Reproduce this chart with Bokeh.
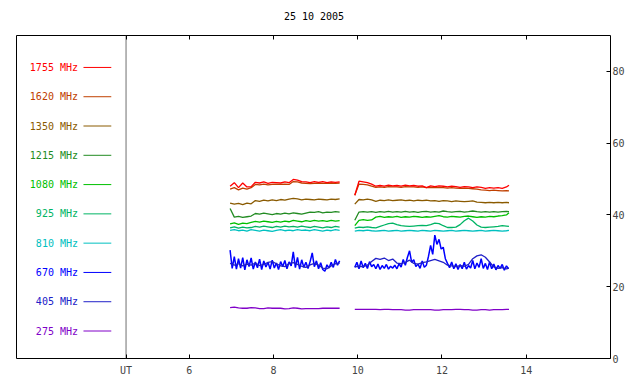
from bokeh.plotting import figure
from bokeh.models import Span, FixedTicker, LinearAxis, Range1d, ColumnDataSource, Div
from bokeh.layouts import column
from bokeh.core.properties import value
from bokeh.embed import file_html
from bokeh.resources import INLINE

TITLE = "25 10 2005"
UT_X = 4.5
X_TICKS = [6, 8, 10, 12, 14]
Y_TICKS = [0, 20, 40, 60, 80]

FREQ_LABELS = ["1755 MHz", "1620 MHz", "1350 MHz", "1215 MHz", "1080 MHz",
               "925 MHz", "810 MHz", "670 MHz", "405 MHz", "275 MHz"]
COLORS = ["#ff0000", "#c04000", "#8a5a00", "#228b22", "#00c000",
          "#00b464", "#00c0c0", "#0000ff", "#2020c8", "#8000c8"]

# time (UT hours) of the two observing blocks
T1 = [6.97, 7.07, 7.17, 7.27, 7.37, 7.47, 7.57, 7.67, 7.77, 7.87,
      7.97, 8.07, 8.17, 8.27, 8.37, 8.47, 8.57, 8.67, 8.77, 8.87,
      8.97, 9.07, 9.17, 9.27, 9.37, 9.47, 9.57]
T2 = [9.93, 10.03, 10.13, 10.23, 10.33, 10.43, 10.53, 10.63, 10.73, 10.83,
      10.93, 11.03, 11.13, 11.23, 11.33, 11.43, 11.53, 11.63, 11.73, 11.83,
      11.93, 12.03, 12.13, 12.23, 12.33, 12.43, 12.53, 12.63, 12.73, 12.83,
      12.93, 13.03, 13.13, 13.23, 13.33, 13.43, 13.53, 13.59]
# finer sampling used for the noisy 670 MHz record
T1F = [6.97, 7.02, 7.07, 7.12, 7.17, 7.22, 7.27, 7.32, 7.37, 7.42,
       7.47, 7.52, 7.57, 7.62, 7.67, 7.72, 7.77, 7.82, 7.87, 7.92,
       7.97, 8.02, 8.07, 8.12, 8.17, 8.22, 8.27, 8.32, 8.37, 8.42,
       8.47, 8.52, 8.57, 8.62, 8.67, 8.72, 8.77, 8.82, 8.87, 8.92,
       8.97, 9.02, 9.07, 9.12, 9.17, 9.22, 9.27, 9.32, 9.37, 9.42,
       9.47, 9.52, 9.57]
T2F = [9.93, 9.98, 10.03, 10.08, 10.13, 10.18, 10.23, 10.28, 10.33, 10.38,
       10.43, 10.48, 10.53, 10.58, 10.63, 10.68, 10.73, 10.78, 10.83, 10.88,
       10.93, 10.98, 11.03, 11.08, 11.13, 11.18, 11.23, 11.28, 11.33, 11.38,
       11.43, 11.48, 11.53, 11.58, 11.63, 11.68, 11.73, 11.78, 11.83, 11.88,
       11.93, 11.98, 12.03, 12.08, 12.13, 12.18, 12.23, 12.28, 12.33, 12.38,
       12.43, 12.48, 12.53, 12.58, 12.63, 12.68, 12.73, 12.78, 12.83, 12.88,
       12.93, 12.98, 13.03, 13.08, 13.13, 13.18, 13.23, 13.28, 13.33, 13.38,
       13.43, 13.48, 13.53, 13.58]

F1755_A = [48.0, 49.0, 47.6, 48.9, 47.8, 47.9, 49.1, 48.9, 49.2, 48.8,
           49.1, 49.0, 48.9, 49.2, 49.0, 49.9, 49.7, 49.3, 49.2, 49.0,
           49.3, 49.1, 49.3, 49.0, 49.2, 49.1, 49.2]
F1755_B = [45.5, 49.4, 49.2, 49.0, 48.6, 48.0, 48.2, 48.0, 48.3, 48.1,
           48.2, 48.0, 48.3, 48.1, 48.2, 48.0, 48.1, 47.6, 48.1, 47.9,
           48.1, 48.0, 47.8, 48.0, 47.9, 47.7, 47.9, 47.8, 47.6, 47.8,
           47.7, 47.4, 47.6, 47.5, 47.6, 47.4, 47.8, 48.3]
F1620_A = [47.2, 47.6, 47.0, 47.5, 47.2, 47.6, 48.5, 48.4, 48.6, 48.4,
           48.5, 48.6, 48.5, 48.6, 48.5, 49.3, 49.2, 48.9, 48.8, 48.7,
           48.8, 48.9, 48.8, 48.8, 48.9, 48.8, 48.9]
F1620_B = [45.5, 48.6, 48.5, 48.4, 48.0, 47.7, 47.8, 47.7, 47.9, 47.8,
           47.8, 47.7, 47.9, 47.8, 47.8, 47.7, 47.8, 47.6, 47.7, 47.6,
           47.7, 47.6, 47.5, 47.6, 47.5, 47.4, 47.5, 47.4, 47.3, 47.2,
           47.0, 46.9, 46.8, 46.9, 46.8, 46.7, 46.8, 46.7]
F1350_A = [43.3, 43.0, 43.2, 42.9, 43.3, 43.1, 44.0, 43.8, 44.1, 43.9,
           44.2, 44.0, 44.3, 44.1, 44.4, 44.6, 44.5, 44.2, 44.4, 44.3,
           44.2, 44.4, 44.3, 44.2, 44.4, 44.3, 44.5]
F1350_B = [43.0, 44.3, 44.2, 44.4, 44.2, 43.8, 44.1, 44.0, 44.2, 44.0,
           44.1, 44.2, 44.0, 44.1, 43.9, 44.1, 44.0, 44.1, 43.9, 44.0,
           43.8, 44.0, 43.9, 43.7, 43.9, 43.8, 43.7, 43.8, 43.9, 43.6,
           43.5, 43.4, 43.5, 43.4, 43.5, 43.4, 43.5, 43.4]
F1215_A = [41.8, 39.4, 39.6, 39.3, 39.5, 39.7, 40.4, 40.2, 40.5, 40.3,
           40.1, 40.4, 40.2, 40.5, 40.3, 40.6, 40.4, 40.2, 40.5, 40.8,
           40.7, 40.9, 40.6, 40.8, 40.7, 40.9, 40.8]
F1215_B = [38.5, 40.8, 40.9, 40.8, 40.9, 40.7, 40.9, 40.8, 41.0, 40.8,
           40.9, 40.8, 41.0, 40.8, 40.9, 40.7, 40.9, 41.0, 40.8, 40.9,
           40.8, 41.1, 40.9, 40.8, 40.9, 41.0, 40.8, 40.9, 41.1, 40.9,
           40.8, 40.9, 40.8, 40.9, 40.8, 40.9, 41.0, 40.9]
F1080_A = [37.5, 37.8, 37.4, 37.7, 37.6, 37.9, 38.2, 38.0, 38.3, 38.1,
           37.9, 38.2, 38.0, 38.3, 38.1, 38.5, 38.3, 38.1, 38.4, 38.2,
           38.5, 38.3, 38.4, 38.2, 38.5, 38.3, 38.4]
F1080_B = [37.0, 38.5, 38.7, 38.5, 38.6, 39.4, 39.6, 39.3, 39.5, 39.4,
           39.6, 39.3, 39.5, 39.4, 39.6, 39.5, 39.3, 39.5, 39.4, 39.6,
           39.8, 39.5, 39.4, 39.6, 39.5, 39.4, 39.6, 39.7, 39.5, 39.3,
           39.5, 39.4, 39.6, 39.5, 39.7, 39.8, 40.0, 40.6]
F925_A = [36.4, 36.7, 36.3, 36.6, 36.4, 36.5, 36.8, 36.6, 36.9, 36.7,
          36.5, 36.8, 36.6, 36.9, 36.7, 36.8, 36.6, 36.9, 36.7, 36.5,
          36.8, 36.6, 36.4, 36.7, 36.5, 36.8, 36.6]
F925_B = [36.3, 36.6, 36.5, 36.7, 36.5, 36.4, 36.8, 37.2, 37.6, 37.7,
          37.3, 37.0, 36.9, 36.8, 36.9, 37.0, 37.1, 37.0, 37.3, 37.7,
          37.6, 37.0, 36.5, 36.5, 36.6, 37.3, 38.4, 39.1, 38.3, 37.2,
          36.6, 36.5, 36.6, 36.7, 36.8, 37.0, 36.9, 36.8]
F810_A = [35.7, 35.9, 35.6, 35.8, 35.5, 35.9, 35.7, 35.5, 35.8, 35.6,
          35.4, 35.7, 35.9, 35.6, 35.8, 35.6, 35.9, 35.7, 35.8, 35.6,
          35.9, 35.7, 35.5, 35.8, 35.6, 35.9, 35.7]
F810_B = [35.5, 35.7, 35.6, 35.8, 35.6, 35.5, 35.6, 35.7, 35.5, 35.6,
          35.7, 35.5, 35.6, 35.7, 35.6, 35.5, 35.7, 35.6, 35.5, 35.7,
          35.6, 35.5, 35.6, 35.7, 35.5, 35.6, 35.7, 35.6, 35.5, 35.6,
          35.7, 35.5, 35.6, 35.7, 35.6, 35.5, 35.6, 35.7]
F670_A = [30.2, 25.1, 28.4, 24.9, 27.8, 25.2, 28.1, 24.7, 27.5, 25.6,
          28.0, 24.9, 26.9, 25.3, 27.7, 24.8, 27.2, 25.5, 26.8, 24.9,
          27.4, 25.2, 26.6, 24.8, 27.0, 25.6, 27.3, 25.0, 26.9, 25.8,
          29.7, 25.3, 28.2, 24.9, 27.5, 25.4, 26.8, 25.1, 27.0, 29.4,
          25.6, 27.2, 25.0, 26.7, 24.8, 24.3, 26.1, 25.2, 26.8, 25.4,
          27.6, 26.0, 27.2]
F670_B = [25.4, 26.8, 25.0, 27.2, 25.3, 26.5, 25.1, 27.0, 25.6, 26.2,
          25.0, 26.3, 24.8, 25.9, 25.1, 26.2, 24.9, 25.7, 25.2, 26.0,
          25.0, 26.4, 25.5, 27.6, 26.0, 28.2, 30.0, 26.8, 27.5, 25.6,
          26.3, 25.1, 27.2, 25.4, 26.0, 28.5, 31.5, 29.0, 34.4, 31.8,
          33.2, 30.5, 31.0, 27.8, 26.5, 25.3, 26.9, 25.0, 26.4, 24.8,
          26.2, 25.0, 26.8, 24.9, 25.9, 25.2, 27.3, 25.0, 26.6, 25.4,
          27.8, 25.1, 26.5, 24.8, 26.9, 25.0, 26.3, 24.7, 25.9, 25.1,
          26.2, 24.6, 25.8, 25.0]
F405_A = [26.5, 26.0, 26.4, 25.8, 26.3, 26.0, 26.6, 25.9, 26.2, 26.8,
          27.0, 26.4, 25.8, 25.6, 26.5, 26.7, 26.2, 25.7, 25.4, 26.1,
          26.5, 26.0, 25.2, 25.0, 25.8, 26.4, 26.6]
F405_B = [25.5, 25.7, 25.6, 26.0, 27.0, 27.9, 27.6, 28.0, 27.3, 27.7,
          26.6, 26.4, 26.8, 27.4, 26.5, 26.3, 26.7, 26.9, 27.3, 27.6,
          27.2, 26.8, 26.0, 25.8, 25.6, 25.9, 25.7, 26.2, 27.8, 28.6,
          28.9, 28.2, 26.9, 25.5, 25.1, 25.3, 25.0, 25.2]
F275_A = [14.2, 14.3, 14.1, 14.0, 14.0, 14.2, 14.1, 13.9, 13.9, 14.1,
          14.0, 14.0, 14.0, 13.8, 13.9, 14.1, 14.0, 13.8, 13.9, 13.9,
          13.9, 13.9, 14.0, 14.0, 14.0, 14.0, 14.0]
F275_B = [13.7, 13.7, 13.7, 13.7, 13.7, 13.7, 13.6, 13.7, 13.7, 13.6,
          13.6, 13.6, 13.5, 13.5, 13.6, 13.6, 13.6, 13.6, 13.6, 13.5,
          13.5, 13.6, 13.6, 13.6, 13.7, 13.7, 13.6, 13.6, 13.5, 13.5,
          13.6, 13.6, 13.5, 13.6, 13.6, 13.6, 13.7, 13.7]

SERIES = {
    "1755 MHz": (T1, F1755_A, T2, F1755_B), "1620 MHz": (T1, F1620_A, T2, F1620_B),
    "1350 MHz": (T1, F1350_A, T2, F1350_B), "1215 MHz": (T1, F1215_A, T2, F1215_B),
    "1080 MHz": (T1, F1080_A, T2, F1080_B), "925 MHz": (T1, F925_A, T2, F925_B),
    "810 MHz": (T1, F810_A, T2, F810_B), "670 MHz": (T1F, F670_A, T2F, F670_B),
    "405 MHz": (T1, F405_A, T2, F405_B), "275 MHz": (T1, F275_A, T2, F275_B),
}
DRAW_ORDER = ["670 MHz", "405 MHz", "275 MHz", "810 MHz", "925 MHz",
              "1080 MHz", "1215 MHz", "1350 MHz", "1620 MHz", "1755 MHz"]

FONT = "DejaVu Sans Mono"

header = Div(text=TITLE, width=628, height=27, margin=(0, 0, 0, 0),
             styles={"font-family": FONT, "font-size": "10px",
                     "text-align": "center", "line-height": "34px",
                     "color": "black", "width": "628px"})

p = figure(width=640, height=357, output_backend="svg", toolbar_location=None,
           x_range=Range1d(1.9, 16), y_range=Range1d(0, 90),
           y_axis_location="right",
           min_border_left=16, min_border_right=30, min_border_top=8,
           min_border_bottom=26)
p.background_fill_color = "white"
p.border_fill_color = "white"
p.grid.visible = False
p.outline_line_color = "black"
p.outline_line_alpha = 1.0
p.outline_line_width = 1

xa = p.xaxis[0]
xa.ticker = FixedTicker(ticks=[UT_X] + X_TICKS)
xa.major_label_overrides = {UT_X: "UT"}
xa.major_tick_in = 4
xa.major_tick_out = 0
xa.minor_tick_line_color = None
xa.axis_line_color = None
xa.major_label_text_font = FONT
xa.major_label_text_font_size = "10px"
xa.major_label_standoff = 6

ya = p.yaxis[0]
ya.ticker = FixedTicker(ticks=Y_TICKS)
ya.major_tick_in = 4
ya.major_tick_out = 0
ya.minor_tick_line_color = None
ya.axis_line_color = None
ya.major_label_text_font = FONT
ya.major_label_text_font_size = "10px"
ya.major_label_standoff = 2

top_ticks = [UT_X] + X_TICKS
top = LinearAxis(ticker=FixedTicker(ticks=top_ticks),
                 major_tick_in=4, major_tick_out=0,
                 minor_tick_line_color=None, axis_line_color=None,
                 major_label_overrides={t: "" for t in top_ticks},
                 major_label_standoff=0)
p.add_layout(top, "above")

p.add_layout(Span(location=UT_X, dimension="height", line_color="#707070",
                  line_width=1, level="underlay"))

for name in DRAW_ORDER:
    c = COLORS[FREQ_LABELS.index(name)]
    ta, a, tb, b = SERIES[name]
    w = 1.5 if name == "670 MHz" else 1.3
    p.line(ta, a, line_color=c, line_width=w)
    p.line(tb, b, line_color=c, line_width=w)

# legend panel on the left
LEG_TOP = 81.1
LEG_STEP = 8.16
leg_y = [LEG_TOP - LEG_STEP * i for i in range(len(FREQ_LABELS))]
leg = ColumnDataSource(dict(
    y=leg_y, label=FREQ_LABELS, color=COLORS,
    tx=[3.36] * len(FREQ_LABELS), x0=[3.49] * len(FREQ_LABELS),
    x1=[4.15] * len(FREQ_LABELS)))
p.text(x="tx", y="y", text="label", text_color="color", source=leg,
       text_align="right", text_baseline="middle",
       text_font=value(FONT), text_font_size=value("10px"))
p.segment(x0="x0", y0="y", x1="x1", y1="y", line_color="color",
          line_width=1, source=leg)

layout = column(header, p, spacing=0)
open("out.html", "w").write(file_html(layout, INLINE))
